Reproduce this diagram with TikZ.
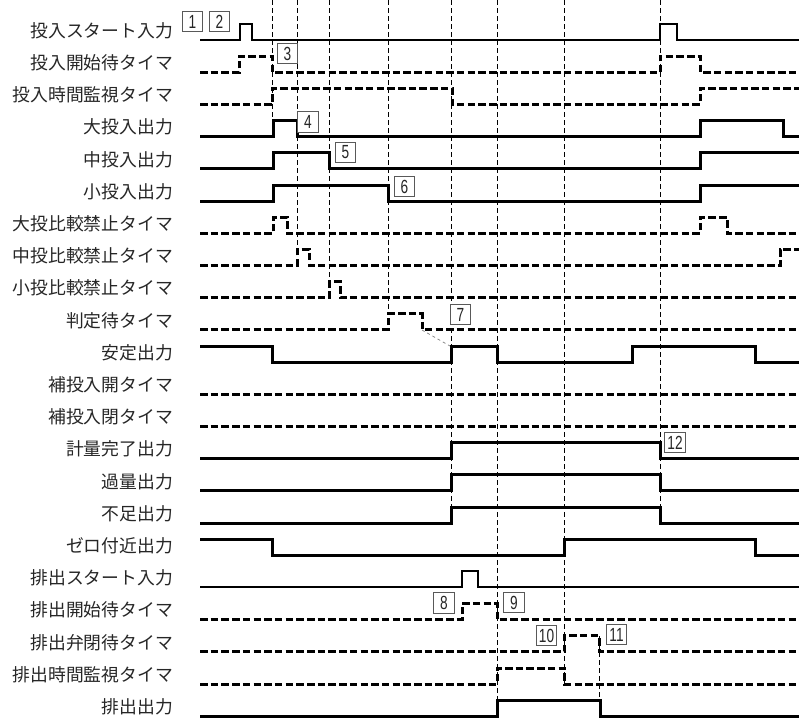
\documentclass[tikz,border=0pt]{standalone}
\usepackage{fontspec}
\newfontfamily\jp{Noto Sans CJK JP}
\newfontfamily\numf[FakeStretch=0.72]{Liberation Sans}
\begin{document}
\begin{tikzpicture}[x=1pt,y=-1pt,
  lab/.style={anchor=east, inner sep=0pt, font=\jp\fontsize{17.8}{20}\selectfont, text=black!85},
  sig/.style={line width=3pt},
  thinsig/.style={line width=1.9pt},
  tmr/.style={line width=3pt, dash pattern=on 7.5pt off 3.2pt},
  guide/.style={line width=0.8pt, dash pattern=on 5pt off 3pt},
  diag/.style={line width=0.7pt, draw=black!50, dash pattern=on 3pt off 3pt},
  numbox/.style={draw=black!65, line width=1pt, fill=white, minimum size=20.5pt, inner sep=0pt, font=\numf\fontsize{19}{19}\selectfont, text=black!85}]
\useasboundingbox (0,0) rectangle (799,720);
% row labels
\foreach \t [count=\i] in {投入スタート入力,投入開始待タイマ,投入時間監視タイマ,大投入出力,中投入出力,小投入出力,大投比較禁止タイマ,中投比較禁止タイマ,小投比較禁止タイマ,判定待タイマ,安定出力,補投入開タイマ,補投入閉タイマ,計量完了出力,過量出力,不足出力,ゼロ付近出力,排出スタート入力,排出開始待タイマ,排出弁閉待タイマ,排出時間監視タイマ,排出出力}
  \node[lab] (L\i) at (173,{30.5+32.2*(\i-1)}) {\t};
% vertical guides
\draw[guide] (272,0) -- (272,121);
\draw[guide] (297,0) -- (297,250);
\draw[guide] (329,0) -- (329,282);
\draw[guide] (388,0) -- (388,314);
\draw[guide] (451,0) -- (451,507);
\draw[guide] (497,0) -- (497,716);
\draw[guide] (564,0) -- (564,684);
\draw[guide] (599,636) -- (599,716);
\draw[guide] (660,0) -- (660,523);
% signals
\draw[thinsig] (200,40) -- (240,40) |- (252,24) |- (660,40) |- (677,24) |- (799,40);
\draw[tmr] (200,72.2) -- (239,72.2) |- (272,56.2) |- (660,72.2) |- (700,56.2) |- (799,72.2);
\draw[tmr] (200,104.4) -- (272,104.4) |- (452,88.4) |- (700,104.4) |- (799,88.4);
\draw[sig] (200,136.6) -- (273,136.6) |- (297,120.6) |- (700,136.6) |- (783,120.6) |- (799,136.6);
\draw[sig] (200,168.8) -- (273,168.8) |- (329,152.8) |- (700,168.8) |- (799,152.8);
\draw[sig] (200,201) -- (273,201) |- (388,185) |- (700,201) |- (799,185);
\draw[tmr] (200,233.2) -- (273,233.2) |- (287,217.2) |- (700,233.2) |- (727,217.2) |- (799,233.2);
\draw[tmr] (200,265.4) -- (297,265.4) |- (309,249.4) |- (780,265.4) |- (799,249.4);
\draw[tmr] (200,297.6) -- (329,297.6) |- (340,281.6) |- (799,297.6);
\draw[tmr] (200,329.8) -- (388,329.8) |- (422,313.8) |- (799,329.8);
\draw[sig] (200,346) -- (272,346) |- (451,362) |- (497,346) |- (632,362) |- (755,346) |- (799,362);
\draw[tmr] (200,394.2) -- (799,394.2);
\draw[tmr] (200,426.4) -- (799,426.4);
\draw[sig] (200,458.6) -- (451,458.6) |- (660,442.6) |- (799,458.6);
\draw[sig] (200,490.8) -- (451,490.8) |- (660,474.8) |- (799,490.8);
\draw[sig] (200,523) -- (451,523) |- (660,507) |- (799,523);
\draw[sig] (200,539.2) -- (272,539.2) |- (564,555.2) |- (755,539.2) |- (799,555.2);
\draw[thinsig] (200,587.4) -- (462,587.4) |- (478,571.4) |- (799,587.4);
\draw[tmr] (200,619.6) -- (462,619.6) |- (497,603.6) |- (799,619.6);
\draw[tmr] (200,651.8) -- (564,651.8) |- (599,635.8) |- (799,651.8);
\draw[tmr] (200,684) -- (497,684) |- (564,668) |- (799,684);
\draw[sig] (200,716.2) -- (497,716.2) |- (600,700.2) |- (799,716.2);
% diagonal for 7
\coordinate (d7a) at (422,330);
\coordinate (d7b) at (450,346);
\draw[diag] (d7a) -- (d7b);
% number boxes
\node[numbox] (b1) at (192.5,21.5) {1};
\node[numbox] (b2) at (219.5,21.5) {2};
\node[numbox] (b3) at (287.5,53.5) {3};
\node[numbox] (b4) at (308,122) {4};
\node[numbox] (b5) at (345.5,152.5) {5};
\node[numbox] (b6) at (404.5,186.5) {6};
\node[numbox] (b7) at (460.5,314.5) {7};
\node[numbox] (b8) at (444,603) {8};
\node[numbox] (b9) at (514,602.5) {9};
\node[numbox] (b10) at (546.5,635.5) {10};
\node[numbox] (b11) at (616.5,634.5) {11};
\node[numbox] (b12) at (675,442.5) {12};
\end{tikzpicture}
\end{document}
